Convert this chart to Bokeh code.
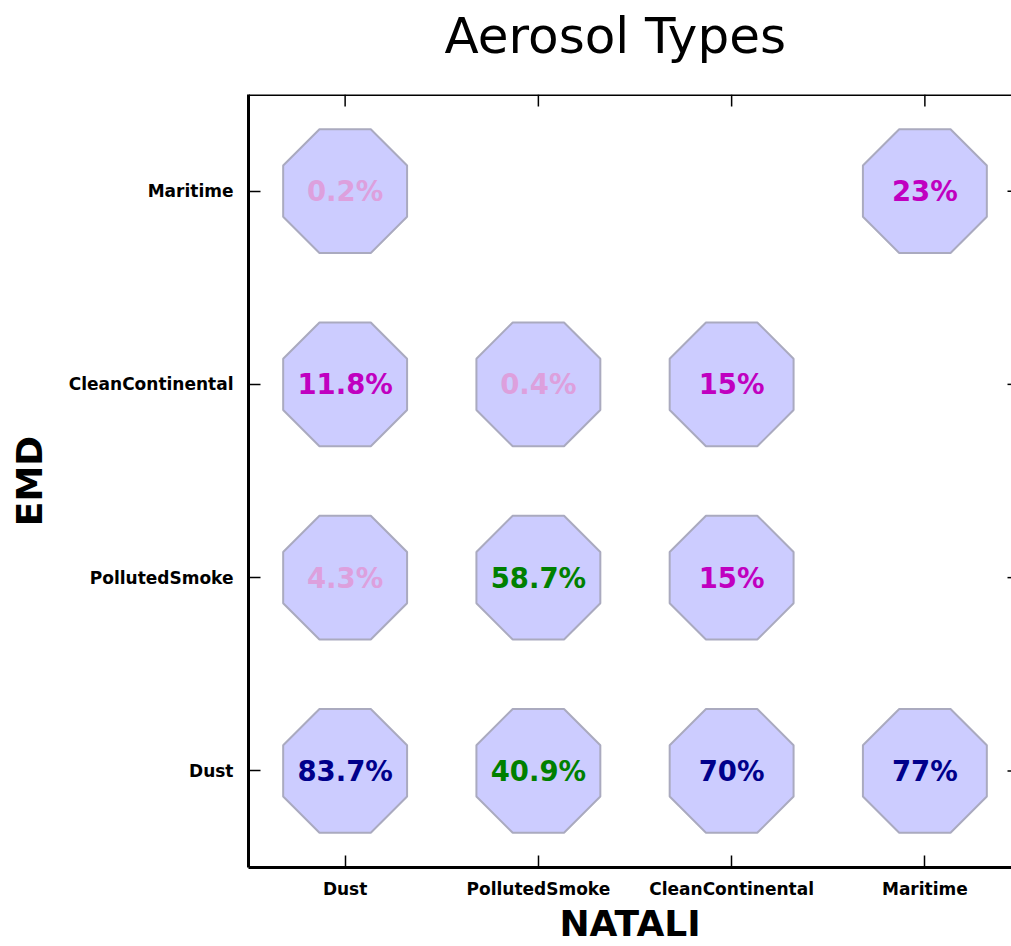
import numpy as np
from bokeh.plotting import figure
from bokeh.models import (Range1d, FixedTicker, LinearAxis, ColumnDataSource, Span, Title,
                          CustomLabelingPolicy)
from bokeh.core.properties import value
from bokeh.embed import file_html
from bokeh.resources import INLINE

# ---- data ----
categories = ["Dust", "PollutedSmoke", "CleanContinental", "Maritime"]
natali = ["Dust", "Dust", "Dust", "Dust",
          "PollutedSmoke", "PollutedSmoke", "PollutedSmoke",
          "CleanContinental", "CleanContinental", "CleanContinental",
          "Maritime", "Maritime"]
emd = ["Dust", "PollutedSmoke", "CleanContinental", "Maritime",
       "Dust", "PollutedSmoke", "CleanContinental",
       "Dust", "PollutedSmoke", "CleanContinental",
       "Dust", "Maritime"]
percent = [83.7, 4.3, 11.8, 0.2,
           40.9, 58.7, 0.4,
           70, 15, 15,
           77, 23]
labels = ["83.7%", "4.3%", "11.8%", "0.2%",
          "40.9%", "58.7%", "0.4%",
          "70%", "15%", "15%",
          "77%", "23%"]
text_colors = ["#00008b", "#dda0dd", "#c000c0", "#dda0dd",
               "#008000", "#008000", "#dda0dd",
               "#00008b", "#c000c0", "#c000c0",
               "#00008b", "#c000c0"]
title_text = "Aerosol Types"
x_label = "NATALI"
y_label = "EMD"

xs = [categories.index(c) for c in natali]
ys = [categories.index(c) for c in emd]
ticks = list(range(len(categories)))

X0, X1, Y0, Y1 = -0.5, 3.5, -0.5, 3.5
PX = 193.25  # pixels per data unit (both axes)
LEFT, TOP, BOTTOM = 248, 94, 79

# octagon outlines in data units around each cell centre
R = 0.347
ang = np.pi / 8 + np.arange(8) * np.pi / 4
oct_x = [list(x + R * np.cos(ang)) for x in xs]
oct_y = [list(y + R * np.sin(ang)) for y in ys]

p = figure(width=1011, height=946, output_backend="svg", toolbar_location=None,
           x_range=Range1d(X0, X0 + (1011 - LEFT) / PX), y_range=Range1d(Y0, Y1),
           min_border_left=LEFT, min_border_right=0, min_border_top=TOP,
           min_border_bottom=BOTTOM, x_axis_location=None, y_axis_location=None)
p.outline_line_color = None
p.xgrid.visible = False
p.ygrid.visible = False
p.background_fill_color = "white"
p.border_fill_color = "white"

ticker = FixedTicker(ticks=ticks)
overrides = {i: c for i, c in enumerate(categories)}


def style(ax):
    ax.ticker = ticker
    ax.major_label_overrides = overrides
    ax.minor_tick_line_color = None
    ax.major_tick_in = 12
    ax.major_tick_out = 0
    ax.major_tick_line_width = 1.5
    ax.major_tick_line_color = "black"
    ax.axis_line_width = 3
    ax.axis_line_color = "black"
    ax.major_label_text_font = "DejaVu Sans"
    ax.major_label_text_font_style = "bold"
    ax.major_label_text_font_size = "17px"
    ax.major_label_text_color = "black"
    ax.axis_label_text_font = "DejaVu Sans"
    ax.axis_label_text_font_style = "bold"
    ax.axis_label_text_font_size = "36px"
    ax.axis_label_text_color = "black"


xb = LinearAxis(axis_label=x_label)
style(xb)
xb.major_label_standoff = 11
xb.axis_label_standoff = 1
p.add_layout(xb, "below")

yl = LinearAxis(axis_label=y_label)
style(yl)
yl.major_label_standoff = 15
yl.axis_label_standoff = 16
p.add_layout(yl, "left")

# spacer axis between frame and title: invisible ticks, no labels drawn
sp = LinearAxis(ticker=ticker)
sp.axis_line_color = None
sp.major_tick_in = 0
sp.major_tick_out = 26
sp.major_tick_line_color = None
sp.minor_tick_line_color = None
sp.major_label_standoff = 0
sp.major_label_text_font_size = "1px"
sp.major_label_policy = CustomLabelingPolicy(
    code="for (const i of indices) { if (i < 0) { yield i } }")
p.add_layout(sp, "above")

p.add_layout(Title(text=title_text, align="left", offset=196, standoff=0,
                   vertical_align="bottom", text_font="DejaVu Sans",
                   text_font_style="normal", text_font_size="50px",
                   text_color="black"), "above")

# top spine (frame edge) and inward ticks on top / right sides
p.add_layout(Span(location=Y1, dimension="width", line_color="black", line_width=3))
p.segment(x0=ticks, y0=[Y1] * len(ticks), x1=ticks, y1=[Y1 - 12 / PX] * len(ticks),
          line_color="black", line_width=1.5)
p.segment(x0=[X1] * len(ticks), y0=ticks, x1=[X1 - 14 / PX] * len(ticks), y1=ticks,
          line_color="black", line_width=1.5)

p.patches(oct_x, oct_y, fill_color="#ccccff", line_color="#aaaabf", line_width=2)

src = ColumnDataSource(dict(x=xs, y=ys, text=labels, color=text_colors, pct=percent))
p.text(x="x", y="y", text="text", source=src, text_color="color",
       text_font=value("DejaVu Sans"), text_font_style="bold",
       text_font_size="27.5px", text_align="center", text_baseline="middle")

open("out.html", "w").write(file_html(p, INLINE))
